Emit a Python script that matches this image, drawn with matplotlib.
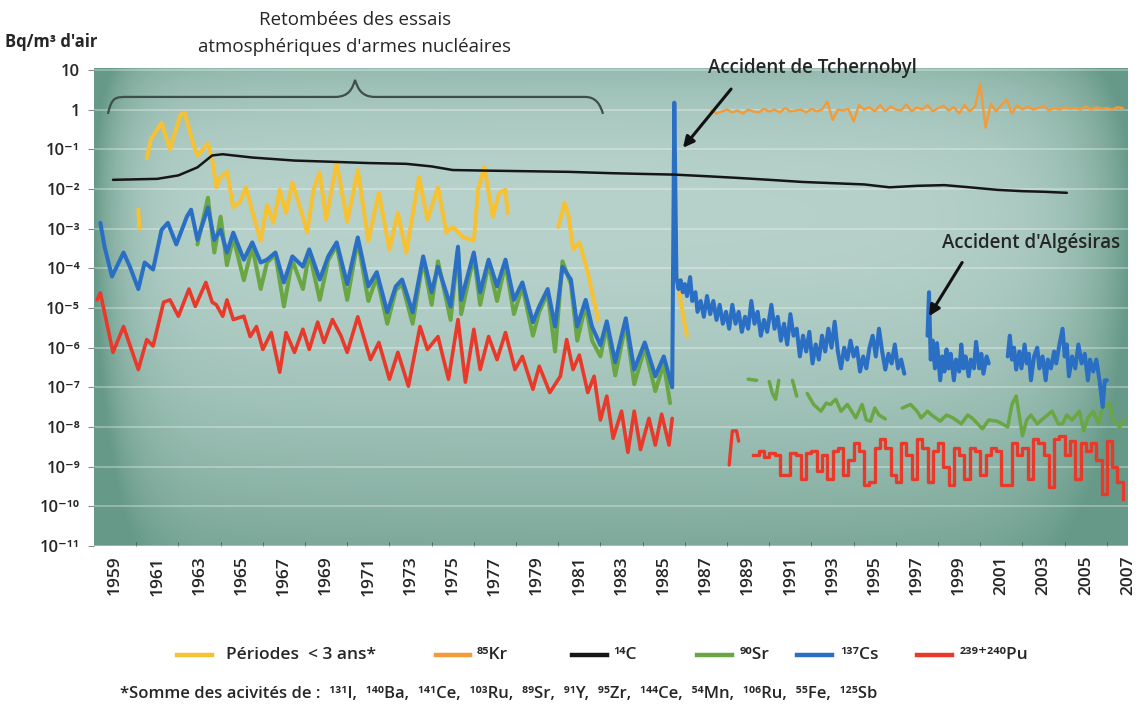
import numpy as np
import matplotlib.pyplot as plt
from matplotlib.path import Path
from matplotlib.patches import PathPatch
from matplotlib.lines import Line2D
from matplotlib.ticker import NullLocator

plt.rcParams['font.family'] = ['Open Sans', 'DejaVu Sans']

# ---- data (Bq/m3 of air) ----
# short-lived fission products, sum of activities
per_years = [1961.0, 1961.2, 1961.7, 1962.1, 1962.6, 1962.8, 1963.2, 1963.4, 1963.9, 1964.1,
             1964.3, 1964.5, 1964.8, 1965.1, 1965.4, 1965.7, 1966.0, 1966.4, 1966.7, 1967.0,
             1967.3, 1967.6, 1967.9, 1968.3, 1968.6, 1968.9, 1969.2, 1969.5, 1970.0, 1970.5,
             1971.0, 1971.5, 1972.0, 1972.5, 1972.9, 1973.3, 1973.9, 1974.3, 1974.8, 1975.2,
             1975.5, 1976.0, 1976.5, 1976.7, 1977.0, 1977.4, 1977.7, 1978.0, 1978.1]
per_vals = [0.06, 0.18, 0.46, 0.1, 0.74, 0.83, 0.14, 0.07, 0.14, 0.055,
            0.011, 0.02, 0.027, 0.0035, 0.0045, 0.011, 0.0027, 0.0005, 0.004, 0.0014,
            0.0095, 0.0025, 0.0145, 0.003, 0.0008, 0.0095, 0.026, 0.0017, 0.046, 0.0015,
            0.03, 0.0005, 0.008, 0.0003, 0.0025, 0.00025, 0.02, 0.0017, 0.011, 0.0008,
            0.0011, 0.0006, 0.0005, 0.0095, 0.036, 0.002, 0.008, 0.0095, 0.0025]
per_years_60 = [1960.6, 1960.65]
per_vals_60 = [0.003, 0.001]
per_years_80 = [1980.5, 1980.8, 1981.0, 1981.2, 1981.5, 1981.9, 1982.1, 1982.4]
per_vals_80 = [0.0011, 0.0045, 0.002, 0.0003, 0.00045, 8e-5, 2.5e-5, 5e-6]
per_years_86 = [1986.15, 1986.3, 1986.45, 1986.6]
per_vals_86 = [6e-5, 1.5e-5, 5e-6, 2e-6]

# krypton 85, quarterly from 1987.75
kr_start = 1987.75
kr_vals = [0.95, 0.8, 0.9, 1.0, 0.85, 0.95, 0.8, 1.0, 0.9, 0.85,
           1.05, 0.9, 1.0, 0.85, 1.1, 0.9, 0.95, 1.0, 0.85, 1.05,
           0.9, 1.0, 1.6, 0.55, 1.0, 0.95, 1.05, 0.5, 1.3, 1.0,
           1.15, 0.9, 1.3, 0.9, 1.2, 1.0, 0.95, 1.35, 0.9, 1.15,
           1.0, 1.3, 0.9, 1.1, 1.25, 0.95, 1.15, 0.8, 1.3, 0.9,
           1.2, 4.5, 0.35, 1.4, 0.9, 1.3, 1.8, 0.8, 1.3, 1.0,
           1.2, 1.0, 1.1, 1.25, 0.95, 1.1, 1.0, 1.15, 1.05, 1.1,
           1.0, 1.2, 1.0, 1.15, 1.05, 1.1, 1.0, 1.15, 1.1]

# carbon 14
c14_years = [1959.4, 1960.5, 1961.5, 1962.5, 1963.4, 1964.1, 1964.6, 1966.0, 1968.0, 1970.0,
             1971.5, 1973.3, 1974.5, 1975.5, 1977.1, 1979.0, 1981.0, 1983.0, 1984.4, 1986.0,
             1987.5, 1989.0, 1990.5, 1992.1, 1993.5, 1995.0, 1996.2, 1997.5, 1998.8, 2000.0,
             2001.3, 2002.5, 2003.5, 2004.6]
c14_vals = [0.017, 0.0175, 0.018, 0.022, 0.035, 0.07, 0.075, 0.062, 0.052, 0.048,
            0.045, 0.043, 0.037, 0.030, 0.029, 0.028, 0.027, 0.025, 0.024, 0.023,
            0.021, 0.019, 0.017, 0.015, 0.014, 0.013, 0.011, 0.012, 0.0125, 0.011,
            0.0095, 0.0088, 0.0085, 0.008]

# strontium 90
sr_years = [1963.4, 1963.9, 1964.2, 1964.5, 1964.8, 1965.1, 1965.6, 1966.0, 1966.4, 1966.7,
            1967.1, 1967.5, 1967.9, 1968.4, 1968.7, 1969.2, 1969.6, 1970.0, 1970.5, 1971.0,
            1971.5, 1971.9, 1972.4, 1972.8, 1973.1, 1973.6, 1974.1, 1974.5, 1974.8, 1975.4,
            1975.75, 1975.9, 1976.5, 1976.8, 1977.2, 1977.6, 1978.0, 1978.4, 1978.8, 1979.3,
            1979.6, 1980.0, 1980.35, 1980.7, 1981.1, 1981.4, 1981.8, 1982.1, 1982.5, 1982.8,
            1983.2, 1983.7, 1984.1, 1984.6, 1985.1, 1985.5, 1985.8]
sr_vals = [4e-4, 6e-3, 2.5e-4, 2e-3, 1.2e-4, 6e-4, 5e-5, 3.5e-4, 3e-5, 1.4e-4,
           2.2e-4, 1.1e-5, 1.6e-4, 3e-5, 2.5e-4, 1.6e-5, 1.6e-4, 3.8e-4, 1.6e-5, 5e-4,
           1.5e-5, 6e-5, 4e-6, 2.8e-5, 4e-5, 4e-6, 1.6e-4, 1.2e-5, 1.5e-4, 5e-6,
           3e-4, 7e-6, 2e-4, 1.2e-5, 1.3e-4, 1.5e-5, 1.3e-4, 7e-6, 3.5e-5, 2e-6,
           8e-6, 2.4e-5, 8e-7, 1.5e-4, 4e-5, 1.5e-6, 1.2e-5, 1.5e-6, 6e-7, 3.5e-6,
           2e-7, 4e-6, 1.2e-7, 1e-6, 8e-8, 4e-7, 4e-8]
sr_pieces = [
    ([1989.5, 1989.9], [1.6e-7, 1.5e-7]),
    ([1990.5, 1990.65, 1990.8, 1990.95], [1.4e-7, 7e-8, 5e-8, 1.5e-7]),
    ([1991.6, 1991.8], [1.5e-7, 6e-8]),
    ([1992.3, 1992.6, 1992.95, 1993.2, 1993.4, 1993.65, 1993.9, 1994.2, 1994.6, 1994.9,
      1995.1, 1995.3, 1995.5, 1995.7, 1996.0],
     [7e-8, 3.7e-8, 2.5e-8, 4e-8, 3.7e-8, 5e-8, 2.5e-8, 3.7e-8, 1.7e-8, 3.7e-8,
      1.5e-8, 1.4e-8, 3e-8, 2e-8, 1.6e-8]),
    ([1996.8, 1997.2, 1997.5, 1997.7, 1998.0, 1998.2, 1998.6, 1998.9, 1999.2, 1999.6,
      1999.9, 2000.1, 2000.6, 2000.9, 2001.3, 2001.8, 2002.0, 2002.2, 2002.5, 2002.7,
      2002.9, 2003.2, 2003.4, 2003.9, 2004.2, 2004.4, 2004.6, 2004.85, 2005.2, 2005.4,
      2005.6, 2005.85, 2006.1, 2006.3, 2006.6, 2006.8, 2007.1, 2007.3],
     [3e-8, 3.7e-8, 2.5e-8, 1.7e-8, 2.5e-8, 2e-8, 1.4e-8, 2e-8, 1.7e-8, 1.2e-8,
      2e-8, 1.7e-8, 9e-9, 1.5e-8, 1.4e-8, 1e-8, 3.7e-8, 6e-8, 6e-9, 1.5e-8,
      2e-8, 1.2e-8, 1.5e-8, 2.5e-8, 1.2e-8, 1.2e-8, 2e-8, 1.5e-8, 2.5e-8, 8e-9,
      1.7e-8, 2.5e-8, 1.2e-8, 3e-8, 4e-8, 1.5e-8, 1e-8, 1.5e-8]),
]

# caesium 137, fallout years then the Chernobyl peak and its decay
cs_years = [1958.8, 1959.0, 1959.35, 1959.9, 1960.2, 1960.6, 1960.9, 1961.3, 1961.7, 1962.0,
            1962.4, 1962.9, 1963.1, 1963.4, 1963.9, 1964.2, 1964.5, 1964.8, 1965.1, 1965.6,
            1966.0, 1966.4, 1966.7, 1967.1, 1967.5, 1967.9, 1968.4, 1968.7, 1969.2, 1969.6,
            1970.0, 1970.5, 1971.0, 1971.5, 1971.9, 1972.4, 1972.8, 1973.1, 1973.6, 1974.1,
            1974.5, 1974.8, 1975.4, 1975.75, 1975.9, 1976.5, 1976.8, 1977.2, 1977.6, 1978.0,
            1978.4, 1978.8, 1979.3, 1979.6, 1980.0, 1980.35, 1980.7, 1981.1, 1981.4, 1981.8,
            1982.1, 1982.5, 1982.8, 1983.2, 1983.7, 1984.1, 1984.6, 1985.1, 1985.5, 1985.9,
            1986.0, 1986.1,
            1986.2, 1986.3, 1986.4, 1986.5, 1986.6, 1986.75, 1986.85, 1987.0, 1987.1, 1987.25,
            1987.4, 1987.55, 1987.7, 1987.85, 1988.0, 1988.15, 1988.3, 1988.45, 1988.6, 1988.75,
            1988.9, 1989.05, 1989.2, 1989.35, 1989.5, 1989.65, 1989.8, 1989.95, 1990.1, 1990.25,
            1990.4, 1990.6, 1990.75, 1990.9, 1991.05, 1991.2, 1991.35, 1991.5, 1991.65, 1991.8,
            1991.95, 1992.1, 1992.25, 1992.4, 1992.55, 1992.7, 1992.85, 1993.0, 1993.15, 1993.3,
            1993.45, 1993.6, 1993.75, 1993.9, 1994.05, 1994.2, 1994.35, 1994.5, 1994.65, 1994.8,
            1994.95, 1995.1, 1995.25, 1995.4, 1995.55, 1995.7, 1995.85, 1996.0, 1996.15, 1996.3,
            1996.45, 1996.6, 1996.75, 1996.9]
cs_vals = [1.4e-3, 3.5e-4, 6.2e-5, 2.5e-4, 1.1e-4, 3e-5, 1.4e-4, 9.3e-5, 9.3e-4, 1.4e-3,
           4e-4, 2e-3, 3e-3, 5.2e-4, 3.4e-3, 5.2e-4, 9.3e-4, 2.5e-4, 7.9e-4, 1.65e-4,
           4.5e-4, 1.4e-4, 1.65e-4, 2.5e-4, 4.4e-5, 2e-4, 1.1e-4, 3e-4, 5.2e-5, 2e-4,
           4.5e-4, 4e-5, 6e-4, 3.5e-5, 8e-5, 7.8e-6, 3.5e-5, 5.2e-5, 7.8e-6, 2e-4,
           2.5e-5, 1.1e-4, 1.1e-5, 3.5e-4, 1.6e-5, 2.5e-4, 2.5e-5, 1.65e-4, 3.5e-5, 1.65e-4,
           1.6e-5, 4.4e-5, 4.4e-6, 1.1e-5, 3e-5, 3.4e-6, 1.1e-4, 5.2e-5, 3.4e-6, 1.6e-5,
           3.4e-6, 1.15e-6, 4.6e-6, 4.3e-7, 5.5e-6, 2.8e-7, 1.35e-6, 1.9e-7, 6e-7, 1e-7,
           1.5, 6e-5,
           3e-5, 5e-5, 2.5e-5, 4e-5, 2e-5, 6e-5, 1.5e-5, 2.5e-5, 8e-6, 1.5e-5,
           6e-6, 2e-5, 7e-6, 1.5e-5, 5e-6, 1.2e-5, 4e-6, 8e-6, 3e-6, 1.2e-5,
           4e-6, 8e-6, 2.5e-6, 6e-6, 3e-6, 1.5e-5, 4e-6, 8e-6, 2e-6, 5e-6,
           2.5e-6, 1.2e-5, 3e-6, 6e-6, 1.5e-6, 4e-6, 1.2e-6, 7e-6, 2e-6, 3e-6,
           6e-7, 2e-6, 8e-7, 2.5e-6, 4e-7, 1.2e-6, 5e-7, 2e-6, 8e-7, 3e-6,
           1e-6, 4.5e-6, 8e-7, 3e-7, 1e-6, 5e-7, 1.5e-6, 6e-7, 1e-6, 2.5e-7,
           6e-7, 3e-7, 1e-6, 2e-6, 6e-7, 3e-6, 8e-7, 2.8e-7, 7e-7, 4e-7,
           1.2e-6, 3e-7, 5e-7, 2.2e-7]
cs_pieces = [
    ([1998.0, 1998.07, 1998.15, 1998.25, 1998.35, 1998.45, 1998.6, 1998.7, 1998.8, 1998.9,
      1999.0, 1999.1, 1999.25, 1999.35, 1999.5, 1999.6, 1999.7, 1999.8, 1999.95, 2000.05,
      2000.2, 2000.3, 2000.45, 2000.55, 2000.65, 2000.8, 2000.9],
     [2e-6, 2.5e-5, 5e-7, 1.5e-6, 3e-7, 1.3e-6, 1.5e-7, 6e-7, 2.5e-7, 9e-7,
      3e-7, 7e-7, 1.5e-7, 5e-7, 2.5e-7, 1.2e-6, 3e-7, 6e-7, 1.9e-7, 5e-7,
      3e-7, 1.4e-6, 3e-7, 7e-7, 2.2e-7, 6e-7, 4e-7]),
    ([2001.8, 2001.9, 2002.0, 2002.1, 2002.2, 2002.35, 2002.45, 2002.6, 2002.7, 2002.8,
      2002.9, 2003.05, 2003.2, 2003.3, 2003.45, 2003.6, 2003.7, 2003.85, 2004.0, 2004.1,
      2004.25, 2004.4, 2004.5, 2004.6, 2004.7, 2004.85, 2005.0, 2005.15, 2005.3, 2005.45,
      2005.6, 2005.7, 2005.85, 2006.0, 2006.15, 2006.3, 2006.4, 2006.5],
     [6e-7, 2e-6, 5e-7, 1e-6, 2.8e-7, 8e-7, 3e-7, 1.2e-6, 4e-7, 7e-7,
      1.5e-7, 6e-7, 1e-6, 3e-7, 6e-7, 1.5e-7, 5e-7, 3e-7, 8e-7, 4e-7,
      1.2e-6, 3e-6, 6e-7, 1.2e-6, 1.9e-7, 6e-7, 3e-7, 1.2e-6, 4e-7, 7e-7,
      1.5e-7, 5e-7, 2.5e-7, 5e-7, 1.5e-7, 3.2e-8, 1.5e-7, 1.5e-7]),
]

# plutonium 239+240
pu_years = [1958.65, 1958.8, 1959.4, 1959.9, 1960.6, 1961.0, 1961.3, 1961.8, 1962.1, 1962.5,
            1963.0, 1963.3, 1963.8, 1964.1, 1964.3, 1964.6, 1964.8, 1965.1, 1965.6, 1965.9,
            1966.2, 1966.5, 1966.9, 1967.3, 1967.6, 1968.0, 1968.4, 1968.7, 1969.1, 1969.4,
            1969.8, 1970.2, 1970.5, 1971.0, 1971.6, 1972.0, 1972.5, 1972.9, 1973.4, 1973.95,
            1974.3, 1974.8, 1975.3, 1975.75, 1976.1, 1976.5, 1976.8, 1977.2, 1977.6, 1978.0,
            1978.45, 1978.8, 1979.3, 1979.6, 1980.1, 1980.6, 1980.9, 1981.2, 1981.5, 1981.9,
            1982.2, 1982.5, 1982.8, 1983.1, 1983.5, 1983.8, 1984.1, 1984.4, 1984.8, 1985.1,
            1985.4, 1985.75, 1985.9]
pu_vals = [1.6e-5, 2.4e-5, 7.6e-7, 3.4e-6, 2.8e-7, 1.6e-6, 1.1e-6, 1.4e-5, 1.6e-5, 6.2e-6,
           3e-5, 1.1e-5, 4.4e-5, 1.4e-5, 1.2e-5, 6.2e-6, 1.6e-5, 5.1e-6, 6.2e-6, 1.9e-6,
           3.4e-6, 9e-7, 2.4e-6, 2.4e-7, 2.4e-6, 7.6e-7, 2.9e-6, 9e-7, 4.4e-6, 1.35e-6,
           5.1e-6, 2e-6, 7.6e-7, 6e-6, 5e-7, 1.35e-6, 1.6e-7, 7.6e-7, 1.07e-7, 3.4e-6,
           9e-7, 1.9e-6, 1.6e-7, 5.1e-6, 1.35e-7, 2.9e-6, 2.8e-7, 1.9e-6, 5e-7, 2.4e-6,
           2.8e-7, 6e-7, 8.9e-8, 3.4e-7, 7.4e-8, 1.9e-7, 1.6e-6, 2.8e-7, 6.5e-7, 7.4e-8,
           1.9e-7, 1.5e-8, 6e-8, 5.2e-9, 2.5e-8, 2.3e-9, 2.5e-8, 2.7e-9, 1.65e-8, 3.5e-9,
           2.1e-8, 3.5e-9, 1.65e-8]
pu_years_88 = [1988.6, 1988.75, 1988.95, 1989.05]
pu_vals_88 = [1.1e-9, 8e-9, 8e-9, 4.4e-9]
# quarterly values from 1989.75
pu_start = 1989.75
pu_steps = [2.0e-9, 2.5e-9, 1.8e-9, 2.2e-9, 2.0e-9, 6e-10, 6e-10, 2.2e-9, 2.0e-9, 5e-10,
            2.2e-9, 2.5e-9, 8e-10, 2.0e-9, 5e-10, 2.5e-9, 3e-9, 6e-10, 1.5e-9, 4e-9,
            2.5e-9, 3.5e-10, 4e-10, 3e-9, 5e-9, 3e-9, 6e-10, 4e-10, 4e-9, 2e-9,
            5e-10, 5e-9, 3e-9, 4e-10, 2.5e-9, 4e-9, 1e-9, 3.5e-10, 3e-9, 2e-9,
            5e-10, 3e-9, 2.5e-9, 6e-10, 2e-9, 3e-9, 2.5e-9, 3.5e-10, 3.5e-10, 4e-9,
            2e-9, 3e-9, 5e-10, 5e-9, 4e-9, 2e-9, 3e-10, 5e-9, 6e-9, 2e-9,
            4.5e-9, 5e-10, 4e-9, 2.5e-9, 4e-9, 1.5e-9, 2e-10, 4.5e-9, 1e-9, 4e-10,
            1.5e-10]

ytick_vals = [10, 1] + [10.0 ** -k for k in range(1, 12)]
ytick_labels = ['10', '1', '10⁻¹', '10⁻²', '10⁻³', '10⁻⁴', '10⁻⁵', '10⁻⁶', '10⁻⁷',
                '10⁻⁸', '10⁻⁹', '10⁻¹⁰', '10⁻¹¹']
label_years = list(range(1959, 2008, 2))

# colours
C_PER = '#f6c233'
C_KR = '#f29b38'
C_C14 = '#161616'
C_SR = '#6aa643'
C_CS = '#2a6fc4'
C_PU = '#e8392a'
TXT = '#262626'

W, H = 1141, 714
fig = plt.figure(figsize=(W / 100, H / 100), dpi=100)
fig.patch.set_facecolor('white')


def fx(px):
    return px / W


def fy(py):
    return 1 - py / H


pos = [fx(94), fy(546), fx(1128) - fx(94), fy(68) - fy(546)]

# teal gradient background
bg = fig.add_axes(pos, zorder=0)
gx = np.linspace(0, 1, 600)[None, :]
gy = np.linspace(0, 1, 400)[:, None]
shade = (0.8 * np.exp(-gx / 0.03) + 0.75 * np.exp(-(1 - gx) / 0.05)
         + 0.5 * np.exp(-gy / 0.16) + 0.75 * gy ** 2.0 + 0.15 * (gx - 0.45) ** 2)
shade = np.clip(shade, 0, 1)[..., None]
light = np.array([0.77, 0.86, 0.84])
dark = np.array([0.40, 0.60, 0.53])
bg.imshow(light * (1 - shade) + dark * shade, aspect='auto', extent=[0, 1, 0, 1])
bg.axis('off')

ax = fig.add_axes(pos, zorder=1)
ax.set_facecolor('none')
ax.set_yscale('log')
ax.set_xlim(1958.5, 2007.5)
ax.set_ylim(1e-11, 11.2)
for s in ax.spines.values():
    s.set_visible(False)

ax.set_yticks(ytick_vals)
ax.set_yticklabels(ytick_labels)
ax.yaxis.set_minor_locator(NullLocator())
ax.tick_params(axis='y', length=4, color='#8a8a8a', pad=6, labelsize=12,
               labelcolor=TXT)
ax.yaxis.grid(True, color='white', alpha=0.35, lw=1.2)
ax.set_axisbelow(True)

ax.set_xticks([y + 0.5 for y in label_years])
ax.set_xticklabels([str(y) for y in label_years], rotation=90)
ax.set_xticks([y + 1.5 for y in label_years[:-1]], minor=True)
ax.tick_params(axis='x', which='major', length=0, pad=7, labelsize=12.5, labelcolor=TXT)
ax.tick_params(axis='x', which='minor', direction='in', length=3, color='#3d5a52')
for t in ax.get_xticklabels() + ax.get_yticklabels():
    t.set_fontweight('semibold')

kw = dict(solid_joinstyle='round', solid_capstyle='round')

# short-lived products (drawn first, behind the others)
for xs, vs in [(per_years_60, per_vals_60), (per_years, per_vals),
               (per_years_80, per_vals_80), (per_years_86, per_vals_86)]:
    ax.plot(xs, vs, color=C_PER, lw=2.9, **kw)

ax.plot(sr_years, sr_vals, color=C_SR, lw=2.9, **kw)
for xs, vs in sr_pieces:
    ax.plot(xs, vs, color=C_SR, lw=2.5, **kw)

ax.plot(cs_years, cs_vals, color=C_CS, lw=2.9, **kw)
for xs, vs in cs_pieces:
    ax.plot(xs, vs, color=C_CS, lw=2.9, **kw)

ax.plot(c14_years, c14_vals, color=C_C14, lw=1.8, **kw)

ax.plot(pu_years, pu_vals, color=C_PU, lw=2.6, **kw)
ax.plot(pu_years_88, pu_vals_88, color=C_PU, lw=2.4, **kw)
pu_x = pu_start + 0.25 * np.arange(len(pu_steps))
ax.plot(pu_x, pu_steps, color=C_PU, lw=2.4, drawstyle='steps-post')

kr_x = kr_start + 0.25 * np.arange(len(kr_vals))
ax.plot(kr_x, kr_vals, color=C_KR, lw=1.7, **kw)

# brace over the atmospheric-test period
brace = [
    (1959.16, 0.78), (1959.35, 2.09), (1959.5, 2.09), (1960.11, 2.09),
    (1969.92, 2.09),
    (1970.6, 2.09), (1970.75, 3.5), (1970.87, 5.6),
    (1971.0, 3.5), (1971.15, 2.09), (1971.82, 2.09),
    (1981.77, 2.09),
    (1982.3, 2.09), (1982.5, 1.3), (1982.62, 0.78),
]
codes = [Path.MOVETO, Path.CURVE4, Path.CURVE4, Path.CURVE4, Path.LINETO,
         Path.CURVE4, Path.CURVE4, Path.CURVE4, Path.CURVE4, Path.CURVE4, Path.CURVE4,
         Path.LINETO, Path.CURVE4, Path.CURVE4, Path.CURVE4]
ax.add_patch(PathPatch(Path(brace, codes), fill=False, edgecolor='#3e4f4a', lw=1.6,
                       transform=ax.transData, zorder=5))

# arrows to the accidents
arrow = dict(arrowstyle='-|>', color='#111111', lw=2.2, mutation_scale=16,
             shrinkA=0, shrinkB=0)
ax.annotate('', xy=(1986.41, 0.109), xytext=(1988.69, 3.3), arrowprops=arrow,
            annotation_clip=False)
ax.annotate('', xy=(1998.07, 6.2e-6), xytext=(1999.64, 1.4e-4), arrowprops=arrow)

# text
fig.text(fx(5), fy(42), "Bq/m³ d'air", fontsize=12, fontweight='bold', color=TXT,
         va='center', ha='left')
fig.text(fx(355), fy(20), 'Retombées des essais', fontsize=13.5, color=TXT,
         ha='center', va='center')
fig.text(fx(355), fy(47), "atmosphériques d'armes nucléaires", fontsize=13.5, color=TXT,
         ha='center', va='center')
fig.text(fx(812), fy(68), 'Accident de Tchernobyl', fontsize=13.5, fontweight='semibold',
         color=TXT, ha='center', va='center')
fig.text(fx(1031), fy(243), "Accident d'Algésiras", fontsize=13.5, fontweight='semibold',
         color=TXT, ha='center', va='center')

# legend row
legend_items = [
    (177, 212, 226, C_PER, 'Périodes  < 3 ans*'),
    (436, 470, 477, C_KR, '⁸⁵Kr'),
    (572, 607, 613, C_C14, '¹⁴C'),
    (697, 732, 740, C_SR, '⁹⁰Sr'),
    (797, 832, 840, C_CS, '¹³⁷Cs'),
    (917, 952, 960, C_PU, '²³⁹⁺²⁴⁰Pu'),
]
ly = 655
for x0, x1, xt, col, lab in legend_items:
    fig.add_artist(Line2D([fx(x0), fx(x1)], [fy(ly), fy(ly)], color=col, lw=3.2,
                          transform=fig.transFigure))
    fig.text(fx(xt), fy(ly), lab, fontsize=12.5, fontweight='semibold', color=TXT,
             ha='left', va='center')

fig.text(fx(120), fy(694),
         '*Somme des acivités de :  ¹³¹I,  ¹⁴⁰Ba,  ¹⁴¹Ce,  ¹⁰³Ru,  ⁸⁹Sr,  ⁹¹Y,  ⁹⁵Zr,  '
         '¹⁴⁴Ce,  ⁵⁴Mn,  ¹⁰⁶Ru,  ⁵⁵Fe,  ¹²⁵Sb',
         fontsize=12, fontweight='semibold', color=TXT, ha='left', va='center')

fig.savefig('out.png', dpi=100)
